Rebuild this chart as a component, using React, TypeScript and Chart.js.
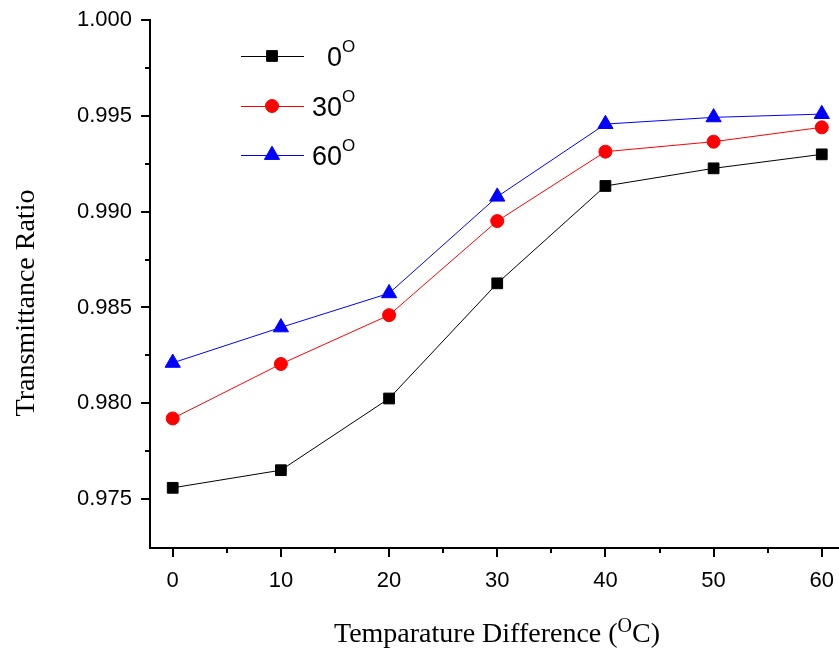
import React, { useEffect, useRef } from "react";
import { Chart, registerables } from "chart.js";

Chart.register(...registerables);

const xValues = [0, 10, 20, 30, 40, 50, 60];
const series0 = [0.97559, 0.97651, 0.98025, 0.98626, 0.99134, 0.99226, 0.99299];
const series30 = [0.97921, 0.98205, 0.9846, 0.98951, 0.99313, 0.99365, 0.9944];
const series60 = [0.98211, 0.98396, 0.98574, 0.99078, 0.99457, 0.99492, 0.99509];
const seriesNames = ["0", "30", "60"];
const xMajorTicks = [0, 10, 20, 30, 40, 50, 60];
const xMinorTicks = [5, 15, 25, 35, 45, 55];
const yMajorTicks = [0.975, 0.98, 0.985, 0.99, 0.995, 1.0];
const yMinorTicks = [0.9775, 0.9825, 0.9875, 0.9925, 0.9975];
const xTitle = ["Temparature Difference (", "O", "C)"];
const yTitle = "Transmittance Ratio";

const SANS = "'Liberation Sans', Arial, sans-serif";
const SERIF = "'Liberation Serif', 'Times New Roman', serif";

function drawMarker(ctx: CanvasRenderingContext2D, style: string, x: number, y: number, r: number) {
  ctx.beginPath();
  if (style === "rect") {
    const s = Math.SQRT1_2 * r;
    ctx.rect(x - s, y - s, 2 * s, 2 * s);
  } else if (style === "triangle") {
    ctx.moveTo(x, y - r);
    ctx.lineTo(x + r * Math.sin((Math.PI * 2) / 3), y + r / 2);
    ctx.lineTo(x - r * Math.sin((Math.PI * 2) / 3), y + r / 2);
    ctx.closePath();
  } else {
    ctx.arc(x, y, r, 0, Math.PI * 2);
  }
  ctx.fill();
  ctx.stroke();
}

const customPlugin = {
  id: "customAxesLegend",
  afterDraw(chart: any) {
    const ctx = chart.ctx as CanvasRenderingContext2D;
    const xs = chart.scales.x;
    const ys = chart.scales.y;
    const ca = chart.chartArea;
    ctx.save();
    ctx.strokeStyle = "#000";
    ctx.lineWidth = 2;
    ctx.beginPath();
    for (const v of yMajorTicks) {
      const p = Math.round(ys.getPixelForValue(v));
      ctx.moveTo(ca.left - 9, p);
      ctx.lineTo(ca.left, p);
    }
    for (const v of yMinorTicks) {
      const p = Math.round(ys.getPixelForValue(v));
      ctx.moveTo(ca.left - 5, p);
      ctx.lineTo(ca.left, p);
    }
    for (const v of xMajorTicks) {
      const p = Math.round(xs.getPixelForValue(v));
      ctx.moveTo(p, ca.bottom);
      ctx.lineTo(p, ca.bottom + 9);
    }
    for (const v of xMinorTicks) {
      const p = Math.round(xs.getPixelForValue(v));
      ctx.moveTo(p, ca.bottom);
      ctx.lineTo(p, ca.bottom + 5);
    }
    ctx.stroke();

    // X title with superscript
    ctx.fillStyle = "#000";
    ctx.textBaseline = "alphabetic";
    ctx.textAlign = "left";
    const mainFont = `28px ${SERIF}`;
    const supFont = `20px ${SERIF}`;
    ctx.font = mainFont;
    const w1 = ctx.measureText(xTitle[0]).width;
    const w3 = ctx.measureText(xTitle[2]).width;
    ctx.font = supFont;
    const w2 = ctx.measureText(xTitle[1]).width;
    const total = w1 + w2 + w3;
    let tx = 497 - total / 2;
    const ty = 642;
    ctx.font = mainFont;
    ctx.fillText(xTitle[0], tx, ty);
    tx += w1;
    ctx.font = supFont;
    ctx.fillText(xTitle[1], tx, ty - 10);
    tx += w2;
    ctx.font = mainFont;
    ctx.fillText(xTitle[2], tx, ty);

    // Y title
    ctx.save();
    ctx.translate(34, 303);
    ctx.rotate(-Math.PI / 2);
    ctx.textAlign = "center";
    ctx.font = `28px ${SERIF}`;
    ctx.fillText(yTitle, 0, 0);
    ctx.restore();

    // Legend
    const rowsY = [56, 106, 155];
    chart.data.datasets.forEach((ds: any, i: number) => {
      const y = rowsY[i];
      ctx.strokeStyle = ds.borderColor;
      ctx.lineWidth = 1;
      ctx.beginPath();
      ctx.moveTo(241, y + 0.5);
      ctx.lineTo(304, y + 0.5);
      ctx.stroke();
      ctx.fillStyle = ds.pointBackgroundColor;
      ctx.strokeStyle = ds.borderColor;
      ctx.lineWidth = 1;
      drawMarker(ctx, ds.pointStyle, 272, y, ds.pointRadius);
      ctx.fillStyle = "#000";
      ctx.textAlign = "right";
      ctx.font = `27px ${SANS}`;
      ctx.fillText(ds.label, 342, y + 10);
      ctx.textAlign = "left";
      ctx.font = `17px ${SANS}`;
      ctx.fillText("O", 342, y - 4);
    });
    ctx.restore();
  },
};

export default function App() {
  const ref = useRef<HTMLCanvasElement>(null);
  useEffect(() => {
    if (!ref.current) return;
    const mk = (label: string, vals: number[], color: string, style: string, r: number) => ({
      label,
      data: xValues.map((x, i) => ({ x, y: vals[i] })),
      borderColor: color,
      backgroundColor: color,
      pointBackgroundColor: color,
      pointBorderColor: color,
      borderWidth: 1,
      pointBorderWidth: 1,
      pointStyle: style,
      pointRadius: r,
      pointHoverRadius: r,
      tension: 0,
      clip: false,
    });
    const chart = new Chart(ref.current, {
      type: "line",
      data: {
        datasets: [
          mk(seriesNames[0], series0, "#000000", "rect", 7.6),
          mk(seriesNames[1], series30, "#ff0000", "circle", 6.5),
          mk(seriesNames[2], series60, "#0000ff", "triangle", 8.8),
        ],
      },
      options: {
        animation: false,
        responsive: false,
        maintainAspectRatio: false,
        layout: { autoPadding: false, padding: { top: 20, right: 1, left: 0, bottom: 0 } },
        plugins: { legend: { display: false }, tooltip: { enabled: false } },
        scales: {
          x: {
            type: "linear",
            min: -2.1,
            max: 61.5,
            afterBuildTicks: (s: any) => {
              s.ticks = xMajorTicks.map((v) => ({ value: v }));
            },
            afterFit: (s: any) => {
              s.height = 102;
              s.paddingLeft = 0;
              s.paddingRight = 0;
            },
            grid: { display: false, drawTicks: false },
            border: { display: true, color: "#000", width: 2 },
            ticks: {
              padding: 20,
              color: "#000",
              font: { family: SANS, size: 22 },
              callback: (v: any) => String(v),
            },
          },
          y: {
            type: "linear",
            min: 0.97245,
            max: 1.0,
            afterBuildTicks: (s: any) => {
              s.ticks = yMajorTicks.map((v) => ({ value: v }));
            },
            afterFit: (s: any) => {
              s.width = 150;
              s.paddingTop = 0;
              s.paddingBottom = 0;
            },
            grid: { display: false, drawTicks: false },
            border: { display: true, color: "#000", width: 2 },
            ticks: {
              padding: 18,
              color: "#000",
              font: { family: SANS, size: 22 },
              callback: (v: any) => Number(v).toFixed(3),
            },
          },
        },
      },
      plugins: [customPlugin],
    } as any);
    return () => chart.destroy();
  }, []);
  return (
    <div style={{ position: "absolute", left: 0, top: 0, width: 839, height: 650, background: "#fff" }}>
      <canvas ref={ref} width={839} height={650} style={{ width: 839, height: 650 }} />
    </div>
  );
}
